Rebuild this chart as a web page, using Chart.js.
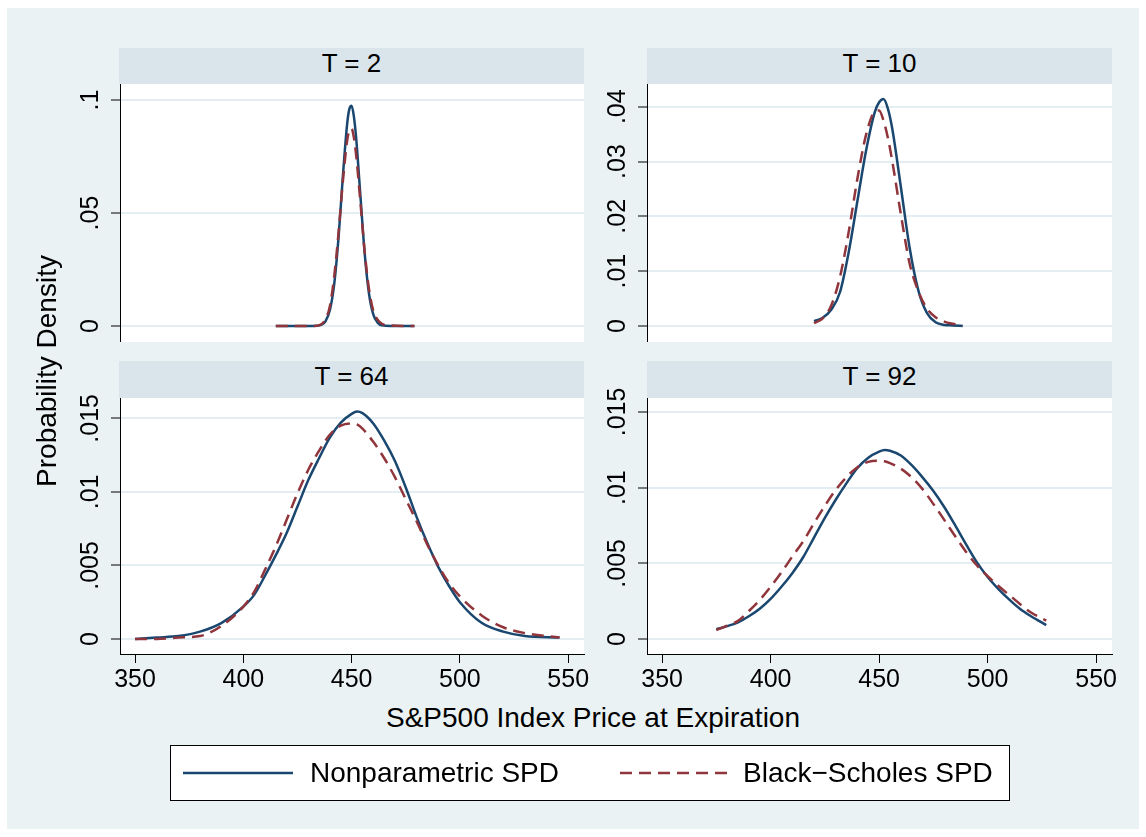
<!DOCTYPE html>
<html>
<head>
<meta charset="utf-8">
<script src="https://cdn.jsdelivr.net/npm/chart.js@4.4.0/dist/chart.umd.min.js"></script>
<style>
  body { margin: 0; background: #fff; font-family: "Liberation Sans", Arial, sans-serif; color: #000; }
  #frame { position: absolute; left: 7px; top: 8px; width: 1132px; height: 821px; background: #eaf2f3; }
  .strip { position: absolute; background: #d9e5eb; font-size: 26px; text-align: center; line-height: 30px; }
  canvas { position: absolute; }
  .title { position: absolute; font-size: 28px; text-align: center; line-height: 34px; white-space: nowrap; }
  #legend { position: absolute; left: 170px; top: 745px; width: 840px; height: 56px; box-sizing: border-box;
            border: 1px solid #000; background: #fff; }
  .legtext { position: absolute; top: 745px; font-size: 28px; line-height: 56px; white-space: nowrap; }
</style>
</head>
<body>
<div id="frame"></div>

<div class="strip" style="left:119px;top:48px;width:465px;height:36px;" id="s0"></div>
<div class="strip" style="left:647px;top:48px;width:465px;height:36px;" id="s1"></div>
<div class="strip" style="left:119px;top:361px;width:465px;height:37px;" id="s2"></div>
<div class="strip" style="left:647px;top:361px;width:465px;height:37px;" id="s3"></div>

<!-- each canvas has 20px of spare room on top and right for tick labels -->
<canvas id="c0" width="544" height="278" style="left:60px;top:64px;"></canvas>
<canvas id="c1" width="545" height="278" style="left:587px;top:64px;"></canvas>
<canvas id="c2" width="544" height="316" style="left:60px;top:378px;"></canvas>
<canvas id="c3" width="545" height="316" style="left:587px;top:378px;"></canvas>

<div class="title" style="left:-153px;top:354px;width:400px;transform:rotate(-90deg);">Probability Density</div>
<div class="title" style="left:193px;top:701px;width:800px;">S&amp;P500 Index Price at Expiration</div>

<div id="legend"></div>
<svg style="position:absolute;left:0;top:0;" width="1146" height="837">
  <line x1="183" y1="773" x2="293" y2="773" stroke="#1a476f" stroke-width="2.5"/>
  <line x1="620" y1="773" x2="730" y2="773" stroke="#90353b" stroke-width="2.5" stroke-dasharray="12 7"/>
</svg>
<div class="legtext" style="left:310px;" id="l0"></div>
<div class="legtext" style="left:743px;" id="l1"></div>

<script>
// ---- data ----
const panelTitles = ['T = 2', 'T = 10', 'T = 64', 'T = 92'];
const seriesNames = ['Nonparametric SPD', 'Black\u2212Scholes SPD'];
const xTicks = [350, 400, 450, 500, 550];
const xTickLabels = ['350', '400', '450', '500', '550'];

// T = 2
const t2Price  = [415, 425, 432, 436, 438, 440, 442, 444, 446, 448, 449, 450, 451, 452, 454, 456, 458, 460, 462, 464, 468, 479];
const t2Nonpar = [0, 0, 0, 0.0005, 0.0022, 0.0072, 0.0189, 0.0397, 0.0668, 0.0900, 0.0962, 0.0975, 0.0930, 0.0842, 0.0585, 0.0325, 0.0145, 0.0051, 0.0015, 0.0003, 0, 0];
const t2BS     = [0, 0, 0, 0.0008, 0.0030, 0.0090, 0.0223, 0.0417, 0.0644, 0.0824, 0.0867, 0.0874, 0.0836, 0.0764, 0.0554, 0.0332, 0.0165, 0.0068, 0.0028, 0.0010, 0.0002, 0];
const t2YTicks = [0, 0.05, 0.1];
const t2YLabels = ['0', '.05', '.1'];

// T = 10
const t10Price  = [420, 424, 428, 432, 436, 440, 444, 448, 450, 452, 454, 456, 460, 464, 468, 472, 476, 480, 484, 488.5];
const t10Nonpar = [0.0009, 0.0015, 0.0030, 0.0062, 0.0135, 0.0228, 0.0320, 0.0390, 0.0408, 0.0414, 0.0397, 0.0361, 0.0254, 0.0144, 0.0066, 0.0024, 0.0007, 0.0002, 0.0001, 0.0000];
const t10BS     = [0.0005, 0.0014, 0.0038, 0.0090, 0.0172, 0.0269, 0.0349, 0.0391, 0.0393, 0.0375, 0.0344, 0.0302, 0.0204, 0.0115, 0.0064, 0.0032, 0.0016, 0.0008, 0.0004, 0.0001];
const t10YTicks = [0, 0.01, 0.02, 0.03, 0.04];
const t10YLabels = ['0', '.01', '.02', '.03', '.04'];

// T = 64
const t64Price  = [350, 360, 370, 380, 390, 400, 405, 410, 415, 420, 425, 430, 435, 440, 445, 450, 452.5, 455, 460, 465, 470, 475, 480, 485, 490, 495, 500, 510, 520, 530, 546];
const t64Nonpar = [0.0000, 0.0001, 0.0002, 0.0005, 0.0011, 0.0022, 0.0030, 0.0043, 0.0057, 0.0072, 0.0090, 0.0108, 0.0123, 0.0137, 0.0147, 0.01530, 0.01546, 0.01535, 0.01465, 0.0135, 0.0121, 0.0103, 0.0083, 0.0065, 0.0049, 0.0036, 0.0025, 0.0011, 0.0005, 0.0002, 0.0001];
const t64BS     = [0.0000, 0.0000, 0.0001, 0.0002, 0.0009, 0.0022, 0.0032, 0.0047, 0.0063, 0.0081, 0.0099, 0.0115, 0.0128, 0.0139, 0.0145, 0.01465, 0.01458, 0.0143, 0.0134, 0.0123, 0.0110, 0.0095, 0.0080, 0.0064, 0.0050, 0.0038, 0.0029, 0.0016, 0.0008, 0.0004, 0.0001];
const t64YTicks = [0, 0.005, 0.01, 0.015];
const t64YLabels = ['0', '.005', '.01', '.015'];

// T = 92
const t92Price  = [375, 380, 385, 390, 395, 400, 405, 410, 415, 420, 425, 430, 435, 440, 445, 450, 452.5, 455, 460, 465, 470, 475, 480, 485, 490, 495, 500, 505, 510, 515, 520, 527];
const t92Nonpar = [0.00064, 0.00085, 0.00110, 0.00150, 0.00200, 0.00265, 0.00345, 0.00435, 0.00540, 0.00670, 0.00800, 0.00920, 0.01030, 0.01130, 0.01198, 0.01238, 0.01249, 0.01244, 0.01212, 0.01148, 0.01068, 0.00978, 0.00872, 0.00752, 0.00627, 0.00508, 0.00410, 0.00330, 0.00260, 0.00198, 0.00150, 0.00092];
const t92BS     = [0.00059, 0.00088, 0.00120, 0.00185, 0.00258, 0.00345, 0.00440, 0.00545, 0.00645, 0.00765, 0.00880, 0.00985, 0.01070, 0.01135, 0.01170, 0.01178, 0.01174, 0.01162, 0.01125, 0.01068, 0.00990, 0.00892, 0.00787, 0.00680, 0.00577, 0.00487, 0.00415, 0.00350, 0.00290, 0.00230, 0.00175, 0.00122];
const t92YTicks = [0, 0.005, 0.01, 0.015];
const t92YLabels = ['0', '.005', '.01', '.015'];

// ---- styling ----
const NAVY = '#1a476f';
const MAROON = '#90353b';
const GRID = '#e4edf1';
const FONT = '"Liberation Sans", Arial, sans-serif';
const X_RANGE = [343.05, 557.3];

panelTitles.forEach((t, i) => document.getElementById('s' + i).textContent = t);
seriesNames.forEach((t, i) => document.getElementById('l' + i).textContent = t);

const measure = document.createElement('canvas').getContext('2d');
measure.font = '25px ' + FONT;

const plotBg = {
  id: 'plotBg',
  beforeDraw(chart) {
    const { ctx, chartArea: a } = chart;
    ctx.save();
    ctx.fillStyle = '#fff';
    ctx.fillRect(a.left, a.top, a.right - a.left, a.bottom - a.top);
    ctx.restore();
  }
};

function pts(xs, ys) {
  return xs.map((x, i) => ({ x: x, y: ys[i] }));
}

function makePanel(id, price, nonpar, bs, yTicks, yLabels, yRange, showX) {
  const widest = Math.max(...yLabels.map(l => measure.measureText(l).width));
  new Chart(document.getElementById(id), {
    type: 'scatter',
    data: {
      datasets: [
        { data: pts(price, nonpar), borderColor: NAVY, borderWidth: 2.5, showLine: true,
          pointRadius: 0, cubicInterpolationMode: 'monotone', order: 1 },
        { data: pts(price, bs), borderColor: MAROON, borderWidth: 2.5, borderDash: [12, 7], showLine: true,
          pointRadius: 0, cubicInterpolationMode: 'monotone', order: 0 }
      ]
    },
    options: {
      responsive: false,
      animation: false,
      devicePixelRatio: 1,
      layout: { padding: { left: 0, top: 20, right: 20, bottom: 0 } },
      plugins: { legend: { display: false }, tooltip: { enabled: false } },
      scales: {
        x: {
          type: 'linear', min: X_RANGE[0], max: X_RANGE[1], display: showX,
          afterBuildTicks: s => { s.ticks = xTicks.map(v => ({ value: v })); },
          afterFit: s => { s.height = showX ? 40 : 0; s.paddingLeft = 0; s.paddingRight = 0; },
          ticks: { autoSkip: false, maxRotation: 0, padding: 2, color: '#000',
                   font: { family: FONT, size: 25 }, callback: (v, i) => xTickLabels[i] },
          grid: { drawOnChartArea: false, tickLength: 9, tickColor: '#000', tickWidth: 1 },
          border: { display: true, color: '#000', width: 1 }
        },
        y: {
          type: 'linear', min: yRange[0], max: yRange[1],
          afterBuildTicks: s => { s.ticks = yTicks.map(v => ({ value: v })); },
          afterFit: s => { s.width = 60; s.paddingTop = 0; s.paddingBottom = 0; },
          ticks: { autoSkip: false, minRotation: 90, maxRotation: 90, crossAlign: 'center',
                   padding: 20 - widest / 2, color: '#000',
                   font: { family: FONT, size: 25 }, callback: (v, i) => yLabels[i] },
          grid: { color: GRID, lineWidth: 2, tickLength: 9, tickColor: '#000', tickWidth: 1 },
          border: { display: true, color: '#000', width: 1 }
        }
      }
    },
    plugins: [plotBg]
  });
}

makePanel('c0', t2Price, t2Nonpar, t2BS, t2YTicks, t2YLabels, [-0.00708, 0.10708], false);
makePanel('c1', t10Price, t10Nonpar, t10BS, t10YTicks, t10YLabels, [-0.00292, 0.04414], false);
makePanel('c2', t64Price, t64Nonpar, t64BS, t64YTicks, t64YLabels, [-0.00102, 0.01638], true);
makePanel('c3', t92Price, t92Nonpar, t92BS, t92YTicks, t92YLabels, [-0.00099, 0.01592], true);
</script>
</body>
</html>
